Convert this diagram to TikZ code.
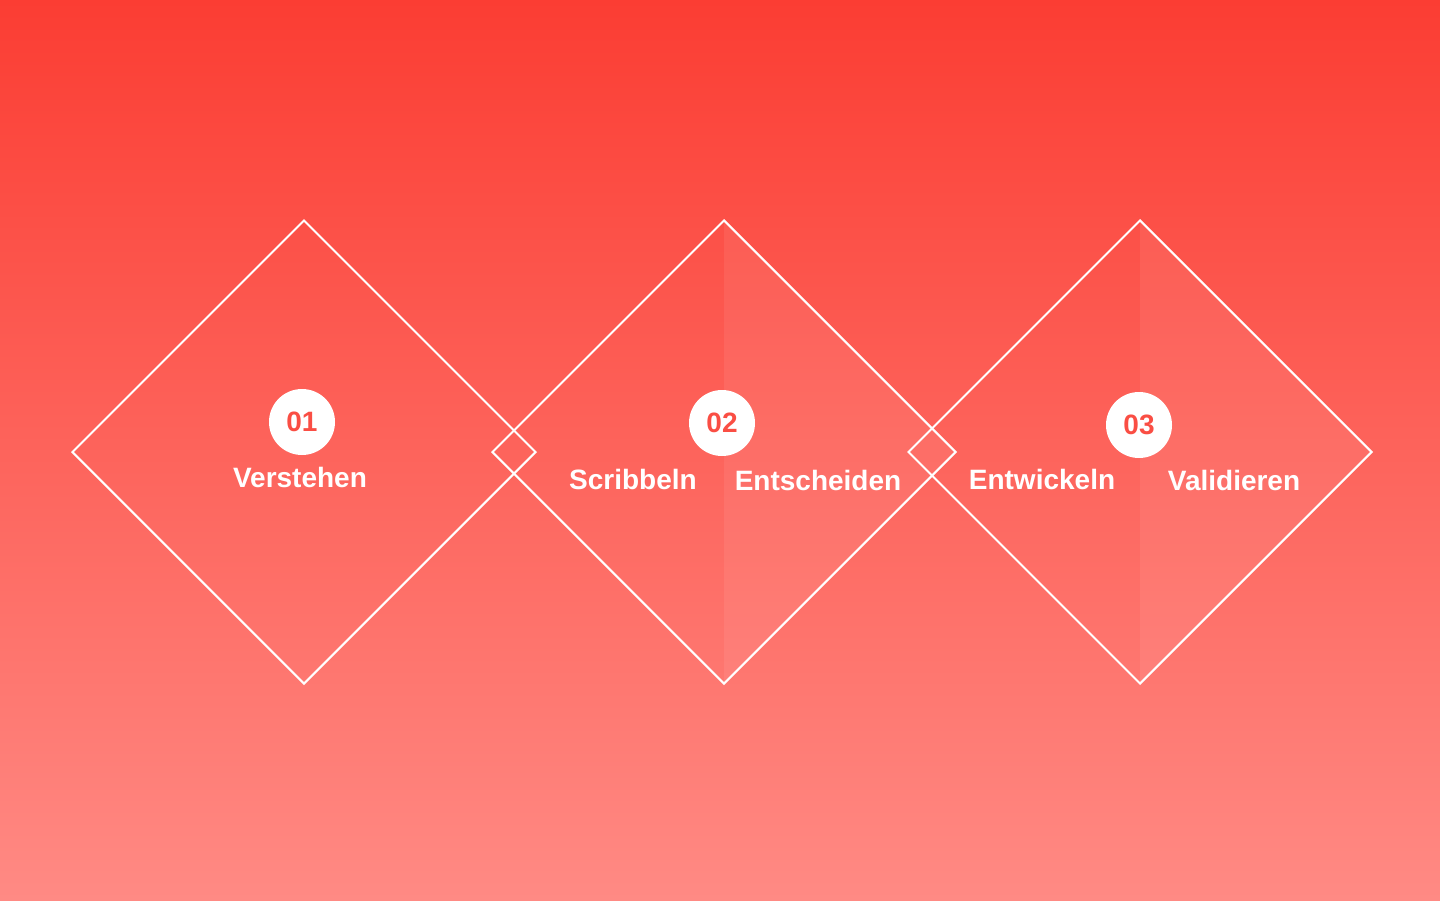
\documentclass[tikz,border=0pt]{standalone}
\usepackage{fontspec}
\setmainfont{Liberation Sans}
\usepackage{tikz}
\usetikzlibrary{
  positioning,
  shapes.geometric
}
\definecolor{bgtop}{RGB}{251,61,51}
\definecolor{bgbottom}{RGB}{255,138,132}
\definecolor{numred}{RGB}{250,78,68}

\begin{document}
\begin{tikzpicture}[
  x=1pt, y=-1pt,
  phase/.style={draw=white, line width=2pt, shape=diamond, inner sep=0pt,
                minimum width=464pt, minimum height=464pt, aspect=1},
  halffill/.style={fill=white, fill opacity=0.07},
  numcircle/.style={circle, fill=white, minimum size=66pt, inner sep=0pt,
                    text=numred, font=\fontsize{28}{28}\selectfont\bfseries},
  steplabel/.style={text=white, anchor=base, inner sep=0pt,
                    font=\fontsize{28}{28}\selectfont\bfseries}
]

% Background
\shade[top color=bgtop, bottom color=bgbottom] (0,0) rectangle (1440,900);
\useasboundingbox (0,0) rectangle (1440,900);

% Diamonds
\node[phase] (d1) at (304,452) {};
\node[phase] (d2) at (724,452) {};
\node[phase] (d3) at (1140,452) {};

\fill[halffill] (d2.north) -- (d2.east) -- (d2.south) -- cycle;
\fill[halffill] (d3.north) -- (d3.east) -- (d3.south) -- cycle;

% Numbers
\node[numcircle] at (302,422) (n1) {01};
\node[numcircle] at (722,423) (n2) {02};
\node[numcircle] at (1139,425) (n3) {03};

% Labels
\node[steplabel] at (300,487) (l1) {Verstehen};
\node[steplabel] at (633,489) (l2a) {Scribbeln};
\node[steplabel] at (818,490) (l2b) {Entscheiden};
\node[steplabel] at (1042,489) (l3a) {Entwickeln};
\node[steplabel] at (1234,490) (l3b) {Validieren};

\end{tikzpicture}
\end{document}
